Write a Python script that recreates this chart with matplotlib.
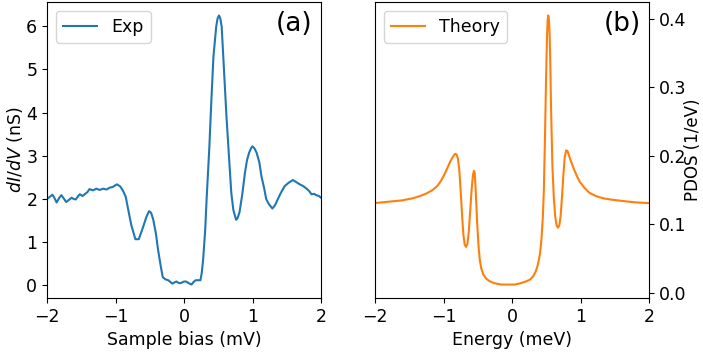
import numpy as np
import matplotlib.pyplot as plt

# measured differential conductance
bias = [-2.00, -1.96, -1.92, -1.89, -1.86, -1.82, -1.79, -1.75, -1.72, -1.68, -1.64,
        -1.61, -1.58, -1.55, -1.52, -1.48, -1.45, -1.41, -1.38, -1.33, -1.28, -1.23,
        -1.18, -1.13, -1.09, -1.04, -0.98, -0.93, -0.89, -0.85, -0.82, -0.77, -0.71,
        -0.66, -0.60, -0.55, -0.51, -0.48, -0.45, -0.41, -0.38, -0.34, -0.31, -0.27,
        -0.23, -0.20, -0.17, -0.14, -0.11, -0.07, -0.04, 0.00, 0.03, 0.07, 0.11,
        0.14, 0.17, 0.21, 0.24, 0.26, 0.28, 0.31, 0.33, 0.37, 0.40, 0.43, 0.47,
        0.49, 0.51, 0.53, 0.55, 0.58, 0.62, 0.66, 0.69, 0.72, 0.76, 0.78, 0.81,
        0.85, 0.89, 0.92, 0.95, 0.98, 1.00, 1.03, 1.06, 1.10, 1.13, 1.17, 1.20,
        1.24, 1.29, 1.33, 1.37, 1.42, 1.47, 1.53, 1.59, 1.64, 1.69, 1.74, 1.79,
        1.83, 1.86, 1.90, 1.93, 1.97, 2.00]
didv = [2.00, 2.05, 2.10, 2.02, 1.92, 2.03, 2.09, 2.00, 1.93, 1.98, 2.03,
        2.00, 1.99, 2.06, 2.11, 2.07, 2.11, 2.16, 2.23, 2.20, 2.24, 2.21,
        2.24, 2.22, 2.26, 2.28, 2.34, 2.29, 2.19, 2.05, 1.80, 1.40, 1.07,
        1.07, 1.34, 1.58, 1.72, 1.68, 1.53, 1.20, 0.84, 0.45, 0.19, 0.14,
        0.12, 0.08, 0.04, 0.07, 0.09, 0.05, 0.06, 0.09, 0.09, 0.05, 0.02,
        0.08, 0.12, 0.12, 0.12, 0.30, 0.61, 1.30, 2.00, 3.20, 4.30, 5.30, 5.99,
        6.18, 6.25, 6.18, 5.99, 5.10, 3.91, 2.90, 2.15, 1.75, 1.52, 1.55, 1.69,
        2.10, 2.61, 2.90, 3.07, 3.18, 3.22, 3.17, 3.07, 2.85, 2.53, 2.25, 2.00,
        1.88, 1.78, 1.86, 2.00, 2.16, 2.30, 2.38, 2.44, 2.39, 2.34, 2.30, 2.24,
        2.18, 2.11, 2.12, 2.09, 2.07, 2.03]

# calculated PDOS
energy = [-2.00, -1.80, -1.60, -1.45, -1.35, -1.25, -1.16, -1.09, -1.04, -0.99,
          -0.94, -0.90, -0.86, -0.83, -0.81, -0.79, -0.77, -0.75, -0.73, -0.71,
          -0.69, -0.67, -0.65, -0.63, -0.61, -0.59, -0.57, -0.555, -0.545, -0.53,
          -0.51, -0.49, -0.47, -0.45, -0.42, -0.38, -0.33, -0.26, -0.16, -0.06,
          0.04, 0.11, 0.19, 0.26, 0.31, 0.35, 0.38, 0.41, 0.43, 0.45, 0.465,
          0.48, 0.495, 0.51, 0.52, 0.53, 0.54, 0.55, 0.56, 0.57, 0.59, 0.61,
          0.63, 0.65, 0.67, 0.69, 0.71, 0.73, 0.75, 0.77, 0.79, 0.81, 0.84,
          0.89, 0.94, 0.99, 1.06, 1.13, 1.23, 1.33, 1.45, 1.62, 1.80, 2.00]
pdos = [0.131, 0.133, 0.135, 0.138, 0.141, 0.145, 0.150, 0.156, 0.163, 0.172,
        0.183, 0.192, 0.199, 0.203, 0.202, 0.196, 0.180, 0.150, 0.115, 0.085,
        0.070, 0.067, 0.072, 0.090, 0.120, 0.150, 0.172, 0.178, 0.176, 0.150,
        0.105, 0.070, 0.048, 0.036, 0.027, 0.021, 0.017, 0.014, 0.012, 0.012,
        0.012, 0.0135, 0.016, 0.019, 0.024, 0.032, 0.042, 0.058, 0.078, 0.110, 0.150,
        0.220, 0.300, 0.370, 0.398, 0.405, 0.398, 0.375, 0.330, 0.270, 0.185, 0.140,
        0.112, 0.099, 0.095, 0.098, 0.112, 0.140, 0.172, 0.198, 0.208, 0.207, 0.198,
        0.184, 0.172, 0.162, 0.153, 0.146, 0.141, 0.138, 0.136, 0.134, 0.132, 0.131]

plt.rcParams['font.size'] = 12.5

fig = plt.figure(figsize=(7.03, 3.53), dpi=100)
ax1 = fig.add_axes([47 / 703, 55 / 353, 274 / 703, 296 / 353])
ax2 = fig.add_axes([375 / 703, 55 / 353, 274 / 703, 296 / 353])

ax1.plot(bias, didv, color='tab:blue', label='Exp')
ax1.set_xlim(-2, 2)
ax1.set_xticks([-2, -1, 0, 1, 2])
ax1.set_xlabel('Sample bias (mV)')
ax1.set_ylabel('$dI/dV$ (nS)', labelpad=1)
ax1.legend(loc='upper left')
ax1.text(0.97, 0.97, '(a)', transform=ax1.transAxes, ha='right', va='top', fontsize=19)

ax2.plot(energy, pdos, color='tab:orange', label='Theory')
ax2.set_xlim(-2, 2)
ax2.set_xticks([-2, -1, 0, 1, 2])
ax2.set_xlabel('Energy (meV)')
ax2.yaxis.tick_right()
ax2.yaxis.set_label_position('right')
ax2.set_ylabel('PDOS (1/eV)', fontsize=12, labelpad=-1.5)
ax2.legend(loc='upper left')
ax2.text(0.97, 0.97, '(b)', transform=ax2.transAxes, ha='right', va='top', fontsize=19)

fig.savefig('out.png', dpi=100)
